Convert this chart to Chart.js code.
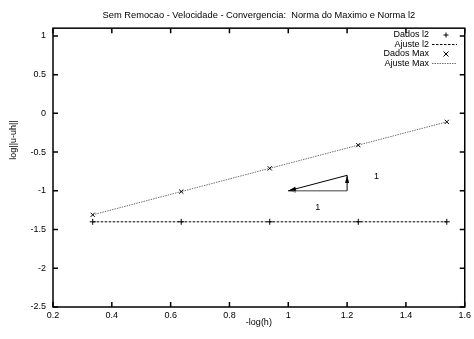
<!DOCTYPE html>
<html>
<head>
<meta charset="utf-8">
<script src="https://cdn.jsdelivr.net/npm/chart.js@4"></script>
<style>
  html, body { margin: 0; padding: 0; background: #fff; }
</style>
</head>
<body>
<canvas id="chart-conv" width="474" height="339"></canvas>
<script>
// values
const xVals = [0.335, 0.636, 0.937, 1.238, 1.539]
const l2Vals = [-1.40, -1.40, -1.40, -1.40, -1.40]
const maxVals = [-1.31, -1.01, -0.71, -0.41, -0.11]
const fitX = [0.335, 1.539]
const fitL2 = [-1.40, -1.40]
const fitMax = [-1.31, -0.11]
const xTicks = [0.2, 0.4, 0.6, 0.8, 1, 1.2, 1.4, 1.6]
const yTicks = [-2.5, -2, -1.5, -1, -0.5, 0, 0.5, 1]
const seriesNames = ['Dados l2', 'Ajuste l2', 'Dados Max', 'Ajuste Max']
// slope triangle
const arrowFrom = [[1.2, -1.0], [1.2, -0.8], [1.2, -1.0]]
const arrowTo = [[1.0, -1.0], [1.0, -1.0], [1.2, -0.8]]
const noteText = ['1', '1']
const notePos = [[1.3, -0.82], [1.1, -1.21]]

const FONT = 'Liberation Sans, Arial, sans-serif'
const pts = (xs, ys) => xs.map((x, i) => ({x: x, y: ys[i]}))

const gnuplotFrame = {
    id: 'gnuplotFrame',
    afterDatasetsDraw(chart) {
        const c = chart.ctx
        const a = chart.chartArea
        const sx = chart.scales.x, sy = chart.scales.y
        c.save()
        c.strokeStyle = '#000'
        c.lineWidth = 1.5
        c.strokeRect(a.left, a.top, a.right - a.left, a.bottom - a.top)
        // inward ticks on all four sides
        sx.ticks.forEach(t => {
            const px = sx.getPixelForValue(t.value)
            c.beginPath()
            c.moveTo(px, a.bottom); c.lineTo(px, a.bottom - 5)
            c.moveTo(px, a.top); c.lineTo(px, a.top + 5)
            c.stroke()
        })
        sy.ticks.forEach(t => {
            const py = sy.getPixelForValue(t.value)
            c.beginPath()
            c.moveTo(a.left, py); c.lineTo(a.left + 5, py)
            c.moveTo(a.right, py); c.lineTo(a.right - 5, py)
            c.stroke()
        })

        // arrows
        const colors = ['#808080', '#000', '#000']
        arrowFrom.forEach((f, i) => {
            const x1 = sx.getPixelForValue(f[0]), y1 = sy.getPixelForValue(f[1])
            const x2 = sx.getPixelForValue(arrowTo[i][0]), y2 = sy.getPixelForValue(arrowTo[i][1])
            const ang = Math.atan2(y2 - y1, x2 - x1)
            c.strokeStyle = colors[i]
            c.fillStyle = colors[i]
            c.lineWidth = i === 0 ? 1.5 : 1
            c.beginPath()
            c.moveTo(x1, y1); c.lineTo(x2, y2)
            c.stroke()
            const hl = 8, ha = 0.26
            c.beginPath()
            c.moveTo(x2, y2)
            c.lineTo(x2 - hl * Math.cos(ang - ha), y2 - hl * Math.sin(ang - ha))
            c.lineTo(x2 - hl * Math.cos(ang + ha), y2 - hl * Math.sin(ang + ha))
            c.closePath()
            c.fill()
        })

        c.fillStyle = '#000'
        c.font = '9px ' + FONT
        c.textAlign = 'center'
        c.textBaseline = 'middle'
        noteText.forEach((s, i) => {
            c.fillText(s, sx.getPixelForValue(notePos[i][0]), sy.getPixelForValue(notePos[i][1]))
        })

        // y axis title
        c.save()
        c.translate(14, 140)
        c.rotate(-Math.PI / 2)
        c.fillText('log||u-uh||', 0, 0)
        c.restore()

        // key, gnuplot style: text right aligned, sample on the right
        c.textAlign = 'right'
        chart.data.datasets.forEach((ds, i) => {
            const yy = 35 + i * 9.5
            c.fillStyle = '#000'
            c.fillText(ds.label, 429, yy)
            c.strokeStyle = ds.borderColor
            c.lineWidth = 1
            if (ds.showLine) {
                c.setLineDash(ds.borderDash)
                c.beginPath()
                c.moveTo(432, yy); c.lineTo(457, yy)
                c.stroke()
                c.setLineDash([])
            } else {
                const r = 2.5, cx = 446
                c.beginPath()
                if (ds.pointStyle === 'cross') {
                    c.moveTo(cx - r, yy); c.lineTo(cx + r, yy)
                    c.moveTo(cx, yy - r); c.lineTo(cx, yy + r)
                } else {
                    c.moveTo(cx - r, yy - r); c.lineTo(cx + r, yy + r)
                    c.moveTo(cx - r, yy + r); c.lineTo(cx + r, yy - r)
                }
                c.stroke()
            }
        })
        c.restore()
    }
}

const ctx = document.getElementById('chart-conv').getContext('2d')

const convChart = new Chart(ctx, {
    type: 'scatter',
    data: {
        datasets: [{
            label: seriesNames[0],
            data: pts(xVals, l2Vals),
            showLine: false,
            pointStyle: 'cross',
            pointRadius: 3,
            borderColor: '#000',
            borderWidth: 1
        }, {
            label: seriesNames[1],
            data: pts(fitX, fitL2),
            showLine: true,
            pointRadius: 0,
            borderColor: '#000',
            borderWidth: 1,
            borderDash: [2.5, 1.5]
        }, {
            label: seriesNames[2],
            data: pts(xVals, maxVals),
            showLine: false,
            pointStyle: 'crossRot',
            pointRadius: 3,
            borderColor: '#000',
            borderWidth: 1
        }, {
            label: seriesNames[3],
            data: pts(fitX, fitMax),
            showLine: true,
            pointRadius: 0,
            borderColor: '#707070',
            borderWidth: 1,
            borderDash: [1.5, 1]
        }]
    },
    options: {
        responsive: false,
        animation: false,
        devicePixelRatio: 1,
        layout: { padding: { left: 0, right: 6, top: 0, bottom: 0 } },
        plugins: {
            legend: { display: false },
            tooltip: { enabled: false },
            title: {
                display: true,
                fullSize: false,
                text: 'Sem Remocao - Velocidade - Convergencia:  Norma do Maximo e Norma l2',
                color: '#000',
                font: { family: FONT, size: 9.3, weight: 'normal' },
                padding: { top: 10, bottom: 7 }
            }
        },
        scales: {
            x: {
                type: 'linear',
                min: 0.2,
                max: 1.6,
                afterBuildTicks: s => { s.ticks = xTicks.map(v => ({value: v})) },
                afterFit: s => { s.height = 32 },
                grid: { display: false, drawTicks: false },
                border: { display: false },
                ticks: {
                    color: '#000',
                    padding: 3,
                    maxRotation: 0,
                    autoSkip: false,
                    font: { family: FONT, size: 9 },
                    callback: v => String(+v.toFixed(1))
                },
                title: {
                    display: true,
                    text: '-log(h)',
                    color: '#000',
                    font: { family: FONT, size: 9 },
                    padding: { top: 0, bottom: 11 }
                }
            },
            y: {
                type: 'linear',
                min: -2.5,
                max: 1.1,
                afterBuildTicks: s => { s.ticks = yTicks.map(v => ({value: v})) },
                afterFit: s => { s.width = 53 },
                grid: { display: false, drawTicks: false },
                border: { display: false },
                ticks: {
                    color: '#000',
                    padding: 7,
                    autoSkip: false,
                    font: { family: FONT, size: 9 },
                    callback: v => String(+v.toFixed(1))
                }
            }
        }
    },
    plugins: [gnuplotFrame]
})
</script>
</body>
</html>
